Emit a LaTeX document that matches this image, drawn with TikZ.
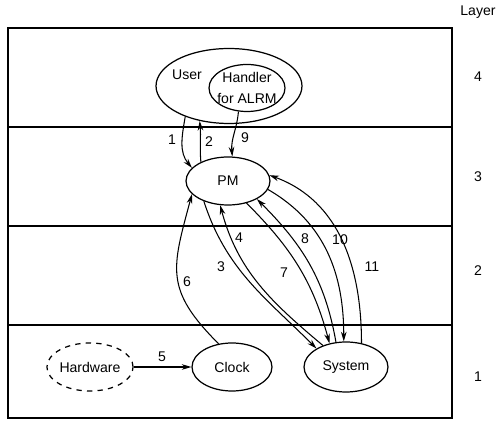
\documentclass[tikz,border=0pt]{standalone}
\usepackage{fontspec}
\setmainfont{Liberation Sans}
\usetikzlibrary{arrows.meta,shapes.geometric}

\begin{document}
\begin{tikzpicture}[
    x=0.02cm, y=0.02cm,
    proc/.style={ellipse, draw, line width=0.7pt, inner sep=0pt,
                 minimum width=1.68cm, minimum height=0.96cm},
    layerline/.style={line width=0.8pt},
    >={Stealth[length=5.5pt, width=3.2pt]},
    flow/.style={->, line width=0.6pt},
    font=\fontsize{8}{12.5}\selectfont
]
    \useasboundingbox (0,0) rectangle (500,432);

    % layers
    \draw[layerline] (8,14) rectangle (452,404);
    \draw[layerline] (8,305) -- (452,305);
    \draw[layerline] (8,206) -- (452,206);
    \draw[layerline] (8,107) -- (452,107);

    % layer numbers
    \node (layer) at (478,420) {Layer};
    \node (L4) at (478,355) {4};
    \node (L3) at (478,255) {3};
    \node (L2) at (478,161) {2};
    \node (L1) at (478,55) {1};

    % processes
    \node[proc, minimum width=2.92cm, minimum height=1.5cm] (user) at (229,346) {};
    \node (usertxt) at (187,357) {User};
    \node[proc, minimum width=1.52cm, minimum height=0.94cm] (handler) at (247,344) {};
    \node[align=center] (handlertxt) at (247,344) {Handler\\for ALRM};
    \node[proc] (pm) at (228,251) {PM};
    \node[proc, dashed] (hw) at (90,65) {Hardware};
    \node[proc, minimum width=1.6cm] (clock) at (232,65) {Clock};
    \node[proc, minimum height=1.0cm] (sys) at (346,65) {System};

    % messages
    \draw[flow] (user.215) to[out=-100, in=130] (pm.160);
    \draw[flow] (pm.145) to[out=95, in=-85] (user.230);
    \draw[flow] (handler.250) to[out=-95, in=95] (pm.80);
    \draw[flow] (hw) -- (clock);
    \draw[flow] (clock.120) to[out=135, in=-105, looseness=1.3] (pm.200);
    \draw[flow] (pm.220) to[out=-72, in=135] (sys.148);
    \draw[flow] (sys.137) to[out=140, in=-75] (pm.252);
    \draw[flow] (pm.310) to[out=-45, in=105] (sys.125);
    \draw[flow] (sys.112) to[out=100, in=-45] (pm.328);
    \draw[flow] (pm.348) to[out=-30, in=90] (sys.95);
    \draw[flow] (sys.57) to[out=90, in=-20] (pm.8);

    % message numbers
    \node (m1) at (172,292) {1};
    \node (m2) at (209,290) {2};
    \node (m9) at (245,294) {9};
    \node (m5) at (162,75) {5};
    \node (m6) at (187,150) {6};
    \node (m3) at (221,165) {3};
    \node (m4) at (239,194) {4};
    \node (m7) at (284,159) {7};
    \node (m8) at (305,193) {8};
    \node (m10) at (340,192) {10};
    \node (m11) at (372,165) {11};

\end{tikzpicture}
\end{document}
